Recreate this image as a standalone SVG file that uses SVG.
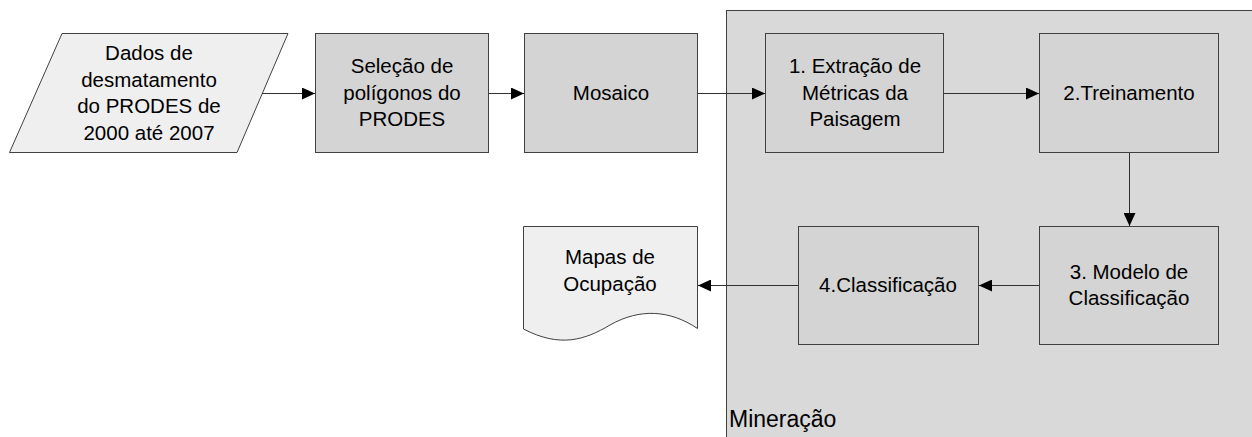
<svg xmlns="http://www.w3.org/2000/svg" width="1252" height="437" viewBox="0 0 1252 437">
<defs>
<marker id="ah" markerWidth="13" markerHeight="12" refX="13" refY="6" orient="auto" markerUnits="userSpaceOnUse">
<path d="M0,0 L13,6 L0,12 Z" fill="#000"/>
</marker>
<style>
.box{fill:#d4d4d4;stroke:#404040;stroke-width:1}
.io{fill:#efefef;stroke:#404040;stroke-width:1}
.cont{fill:#d9d9d9;stroke:#404040;stroke-width:1}
.t{font-family:"Liberation Sans",Arial,sans-serif;font-size:20.5px;fill:#000;text-anchor:middle}
.lbl{font-family:"Liberation Sans",Arial,sans-serif;font-size:23px;fill:#000}
.c{fill:none;stroke:#303030;stroke-width:1;marker-end:url(#ah)}
</style>
</defs>
<rect width="1252" height="437" fill="#fff"/>
<g id="mineracao">
<rect class="cont" x="726.5" y="10.5" width="540" height="440"/>
<text class="lbl" x="729" y="427">Mineração</text>
</g>
<g id="dados">
<polygon class="io" points="62,33.5 288,33.5 237,152.5 9.5,152.5"/>
<text class="t" x="149" y="60">Dados de</text>
<text class="t" x="149" y="87">desmatamento</text>
<text class="t" x="149" y="113">do PRODES de</text>
<text class="t" x="149" y="140">2000 até 2007</text>
</g>
<g id="selecao">
<rect class="box" x="315.5" y="33.5" width="173" height="119"/>
<text class="t" x="402" y="73">Seleção de</text>
<text class="t" x="402" y="99.5">polígonos do</text>
<text class="t" x="402" y="126">PRODES</text>
</g>
<g id="mosaico">
<rect class="box" x="524.5" y="33.5" width="173" height="119"/>
<text class="t" x="611" y="100">Mosaico</text>
</g>
<g id="extracao">
<rect class="box" x="765.5" y="33.5" width="178" height="119"/>
<text class="t" x="855" y="73">1. Extração de</text>
<text class="t" x="855" y="99.5">Métricas da</text>
<text class="t" x="855" y="126">Paisagem</text>
</g>
<g id="treinamento">
<rect class="box" x="1039.5" y="33.5" width="179" height="119"/>
<text class="t" x="1129" y="100">2.Treinamento</text>
</g>
<g id="modelo">
<rect class="box" x="1039.5" y="226.5" width="179" height="118"/>
<text class="t" x="1129" y="279">3. Modelo de</text>
<text class="t" x="1129" y="305">Classificação</text>
</g>
<g id="classificacao">
<rect class="box" x="798.5" y="226.5" width="180" height="118"/>
<text class="t" x="888" y="292">4.Classificação</text>
</g>
<g id="mapas">
<path class="io" d="M523.5,226.5 H697.5 V328.5 C670,310 640,308 610,325 C585,340 560,348 523.5,329 Z"/>
<text class="t" x="610" y="264">Mapas de</text>
<text class="t" x="610" y="291">Ocupação</text>
</g>
<g id="connectors">
<path class="c" d="M262,93.5 H315"/>
<path class="c" d="M489,93.5 H524"/>
<path class="c" d="M698,93.5 H765"/>
<path class="c" d="M944,93.5 H1039"/>
<path class="c" d="M1129.5,153 V226"/>
<path class="c" d="M1039,285.5 H979"/>
<path class="c" d="M798,285.5 H698"/>
</g>
</svg>
